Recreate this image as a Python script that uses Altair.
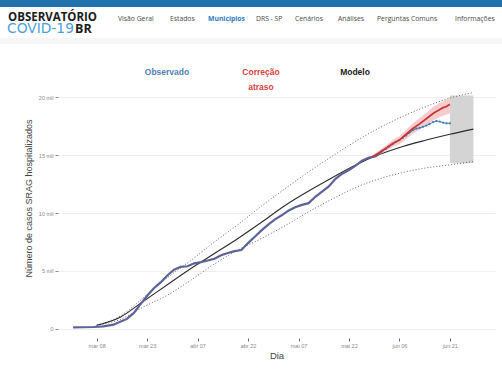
import altair as alt
import pandas as pd

# ---- data (cumulative SRAG hospitalisations, in thousands) ----
obs_dates = ["2020-03-01", "2020-03-04", "2020-03-07", "2020-03-10", "2020-03-13", "2020-03-15",
             "2020-03-17", "2020-03-19", "2020-03-21", "2020-03-23", "2020-03-25", "2020-03-27",
             "2020-03-29", "2020-03-31", "2020-04-02", "2020-04-04", "2020-04-06", "2020-04-08",
             "2020-04-10", "2020-04-12", "2020-04-14", "2020-04-16", "2020-04-18", "2020-04-20",
             "2020-04-22", "2020-04-24", "2020-04-26", "2020-04-28", "2020-04-30", "2020-05-02",
             "2020-05-04", "2020-05-06", "2020-05-08", "2020-05-10", "2020-05-12", "2020-05-14",
             "2020-05-16", "2020-05-18", "2020-05-20", "2020-05-22", "2020-05-24", "2020-05-26",
             "2020-05-28", "2020-05-30", "2020-06-01"]
obs_values = [0.12, 0.13, 0.15, 0.2, 0.35, 0.6, 0.85, 1.35, 2.1, 2.85, 3.5, 4.0, 4.6, 5.1,
              5.35, 5.4, 5.65, 5.75, 5.9, 6.05, 6.35, 6.55, 6.7, 6.8, 7.4, 7.95, 8.5, 9.0, 9.45,
              9.8, 10.2, 10.5, 10.7, 10.85, 11.4, 11.85, 12.3, 12.95, 13.4, 13.7, 14.1, 14.55,
              14.8, 14.9, 15.4]

recent_dates = ["2020-06-01", "2020-06-02", "2020-06-03", "2020-06-04", "2020-06-05", "2020-06-06",
                "2020-06-07", "2020-06-08", "2020-06-09", "2020-06-10", "2020-06-11", "2020-06-12",
                "2020-06-13", "2020-06-14", "2020-06-15", "2020-06-16", "2020-06-17", "2020-06-18",
                "2020-06-19", "2020-06-20", "2020-06-21"]
recent_values = [15.4, 15.55, 15.75, 15.95, 16.15, 16.3, 16.5, 16.7, 16.95, 17.15, 17.3, 17.35,
                 17.45, 17.55, 17.7, 17.85, 17.95, 17.9, 17.8, 17.75, 17.75]

corr_dates = ["2020-05-29", "2020-05-31", "2020-06-02", "2020-06-04", "2020-06-06", "2020-06-08",
              "2020-06-10", "2020-06-12", "2020-06-14", "2020-06-16", "2020-06-18", "2020-06-19",
              "2020-06-20", "2020-06-21"]
corr_values = [14.85, 15.2, 15.6, 16.0, 16.3, 16.8, 17.3, 17.7, 18.15, 18.6, 18.95, 19.1, 19.2, 19.4]
corr_low = [14.7, 15.0, 15.35, 15.7, 15.95, 16.4, 16.85, 17.2, 17.6, 18.0, 18.3, 18.4, 18.5, 18.6]
corr_high = [15.0, 15.4, 15.85, 16.3, 16.65, 17.2, 17.75, 18.2, 18.65, 19.15, 19.5, 19.65, 19.8, 20.0]

model_dates = ["2020-03-08", "2020-03-15", "2020-03-22", "2020-03-29", "2020-04-05", "2020-04-12",
               "2020-04-19", "2020-04-26", "2020-05-03", "2020-05-10", "2020-05-17", "2020-05-24",
               "2020-05-31", "2020-06-07", "2020-06-14", "2020-06-21", "2020-06-28"]
model_values = [0.3, 1.0, 2.4, 3.8, 5.2, 6.5, 7.8, 9.2, 10.65, 11.9, 13.05, 14.15, 15.05, 15.75,
                16.3, 16.8, 17.25]
model_upper = [0.3, 1.1, 2.7, 4.4, 5.9, 7.5, 9.0, 10.6, 12.1, 13.55, 14.9, 16.2, 17.35, 18.35,
               19.2, 19.93, 20.4]
model_lower = [0.3, 0.8, 1.9, 2.9, 4.2, 5.6, 6.8, 7.8, 8.9, 10.1, 11.2, 12.2, 12.95, 13.5, 13.9,
               14.16, 14.45]

proj_start, proj_end = "2020-06-21", "2020-06-28"
proj_low, proj_high = 14.3, 20.15

tick_dates = ["2020-03-08", "2020-03-23", "2020-04-07", "2020-04-22", "2020-05-07",
              "2020-05-22", "2020-06-06", "2020-06-21"]
y_ticks = [0, 5, 10, 15, 20]

nav_items = ["Visão Geral", "Estados", "Municípios", "DRS - SP", "Cenários", "Análises",
             "Perguntas Comuns", "Informações"]

# ---- tables ----
obs = pd.DataFrame({"dia": pd.to_datetime(obs_dates), "v": obs_values})
recent = pd.DataFrame({"dia": pd.to_datetime(recent_dates), "v": recent_values})
corr = pd.DataFrame({"dia": pd.to_datetime(corr_dates), "v": corr_values,
                     "lo": corr_low, "hi": corr_high})
model = pd.DataFrame({"dia": pd.to_datetime(model_dates), "v": model_values,
                      "up": model_upper, "lo": model_lower})
proj = pd.DataFrame({"d0": pd.to_datetime([proj_start]), "d1": pd.to_datetime([proj_end]),
                     "lo": [proj_low], "hi": [proj_high]})
one = pd.DataFrame({"k": [0]})

PAD_L, PAD_T = 58, 88
W, H = 437, 250
FONT = "Liberation Sans"
NAVFONT = "Open Sans"


def dt(s):
    y, m, d = (int(p) for p in s.split("-"))
    return alt.DateTime(year=y, month=m, date=d)


x_scale = alt.Scale(domain=[alt.DateTime(year=2020, month=2, date=25, hours=12),
                            alt.DateTime(year=2020, month=7, date=4, hours=10)])
y_scale = alt.Scale(domain=[-0.8, 20.8], nice=False, zero=False)

month_expr = ("['jan','fev','mar','abr','mai','jun','jul','ago','set','out','nov','dez']"
              "[month(datum.value)] + ' ' + timeFormat(datum.value, '%d')")
x_axis = alt.Axis(values=[dt(s) for s in tick_dates], labelExpr=month_expr, title="Dia",
                  grid=False, domain=False, tickColor="#666", tickSize=3, tickWidth=1,
                  labelFont=FONT, labelFontSize=5.5, labelColor="#888", labelPadding=2,
                  titleFont=FONT, titleFontSize=9.5, titleFontWeight="normal", titleColor="#444",
                  titlePadding=2)
y_axis = alt.Axis(values=y_ticks, labelExpr="datum.value == 0 ? '0' : datum.value + ' mil'",
                  title="Número de casos SRAG hospitalizados", grid=True, gridColor="#efefef",
                  gridWidth=1, domain=False, tickColor="#888", tickSize=3, tickWidth=1,
                  labelFont=FONT, labelFontSize=5.5, labelColor="#888", labelPadding=2,
                  titleFont=FONT, titleFontSize=9, titleFontWeight="normal", titleColor="#444",
                  titleAngle=-90, titleX=-30, titleY=110, titleAlign="center",
                  titleBaseline="middle")


def X(field="dia"):
    return alt.X(f"{field}:T", scale=x_scale, axis=x_axis)


def Y(field="v"):
    return alt.Y(f"{field}:Q", scale=y_scale, axis=y_axis)


# projection window
proj_rect = alt.Chart(proj).mark_rect(color="#d4d4d4").encode(
    x=X("d0"), x2="d1:T", y=Y("lo"), y2="hi:Q")

# model uncertainty bounds
upper_line = alt.Chart(model).mark_line(color="#666", strokeWidth=1, strokeDash=[1, 2],
                                        interpolate="monotone").encode(x=X(), y=Y("up"))
lower_line = alt.Chart(model).mark_line(color="#666", strokeWidth=1, strokeDash=[1, 2],
                                        interpolate="monotone").encode(x=X(), y=Y("lo"))
model_line = alt.Chart(model).mark_line(color="#2b2b2b", strokeWidth=1.1,
                                        interpolate="monotone").encode(x=X(), y=Y("v"))

# delay-corrected band and line
corr_band = alt.Chart(corr).mark_area(color="#f2a3a2", opacity=0.55).encode(
    x=X(), y=Y("lo"), y2="hi:Q")
corr_line = alt.Chart(corr).mark_line(color="#c4363b", strokeWidth=1.8).encode(x=X(), y=Y("v"))

# observed series
obs_line = alt.Chart(obs).mark_line(color="#5e6299", strokeWidth=2.2).encode(x=X(), y=Y("v"))
recent_line = alt.Chart(recent).mark_line(color="#3f7cb8", strokeWidth=1).encode(x=X(), y=Y("v"))
recent_pts = alt.Chart(recent).mark_circle(color="#3f7cb8", size=5, opacity=1).encode(
    x=X(), y=Y("v"))


def label(text, x, y, size, color, weight="normal", font=FONT, align="center",
          baseline="middle"):
    return alt.Chart(one).mark_text(text=text, font=font, fontSize=size, color=color,
                                    fontWeight=weight, align=align, baseline=baseline).encode(
        x=alt.value(x - PAD_L), y=alt.value(y - PAD_T))


# series labels above the plot
legend = [
    label("Observado", 167, 72, 8.5, "#4f7fb5", "bold"),
    label("Correção", 261, 72, 8.5, "#d9413d", "bold"),
    label("atraso", 261, 87, 8.5, "#d9413d", "bold"),
    label("Modelo", 355, 72, 8.5, "#222", "bold"),
]

# page header
stripe = alt.Chart(one).mark_rect(color="#2171ad").encode(
    x=alt.value(-PAD_L), x2=alt.value(502 - PAD_L), y=alt.value(-PAD_T), y2=alt.value(7 - PAD_T))
shade = alt.Chart(one).mark_rect(color="#f6f6f6").encode(
    x=alt.value(-PAD_L), x2=alt.value(502 - PAD_L), y=alt.value(38 - PAD_T),
    y2=alt.value(44 - PAD_T))
header = [
    label("OBSERVATÓRIO", 8, 21, 11.5, "#1b1b1b", "bold", NAVFONT, "left", "alphabetic"),
    label("COVID-19", 7, 33, 13.8, "#4d9fd6", "normal", "DejaVu Sans", "left", "alphabetic"),
    label("BR", 75, 33, 12.5, "#1b1b1b", "bold", NAVFONT, "left", "alphabetic"),
]
nav_x = [118, 170, 208, 256, 295, 338, 377, 455]
for name, xx in zip(nav_items, nav_x):
    blue = name == "Municípios"
    header.append(label(name, xx, 18.5, 6.8, "#2f7cc0" if blue else "#4a4a4a",
                        "bold" if blue else "normal", NAVFONT, "left"))

chart = alt.layer(
    proj_rect, upper_line, lower_line, model_line, corr_band, obs_line,
    recent_line, recent_pts, corr_line, stripe, shade, *header, *legend
).properties(
    width=W, height=H,
    autosize=alt.AutoSizeParams(type="none"),
    padding={"left": PAD_L, "top": PAD_T, "right": 502 - PAD_L - W, "bottom": 387 - PAD_T - H},
    background="white",
).configure_view(stroke=None)

chart.save("out.html", embed_options={"renderer": "svg", "actions": False})
